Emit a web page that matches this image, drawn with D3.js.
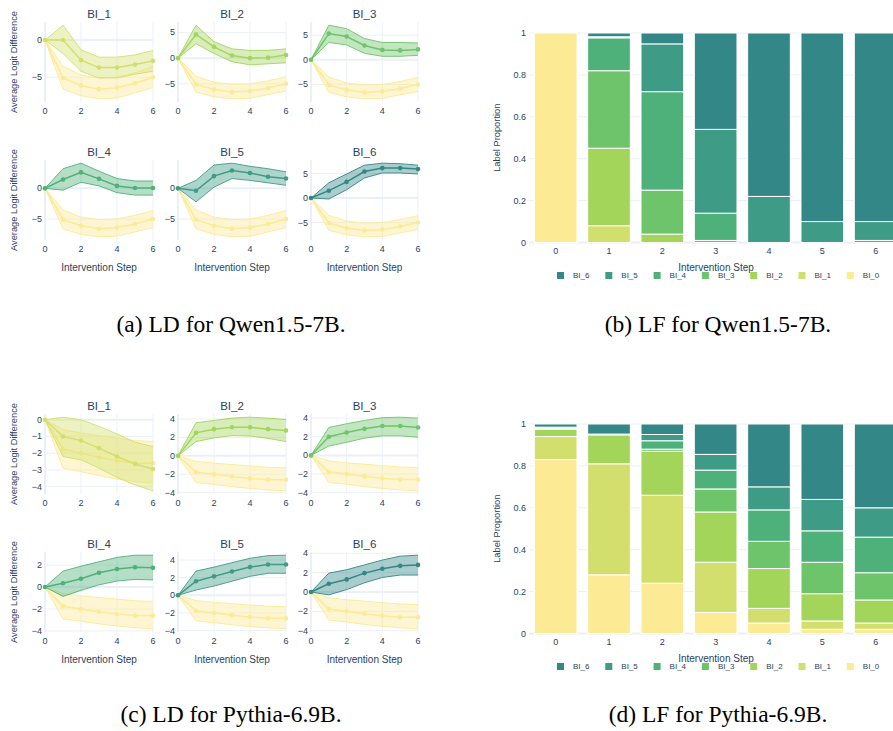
<!DOCTYPE html>
<html>
<head>
<meta charset="utf-8">
<script src="https://cdn.jsdelivr.net/npm/d3@7"></script>
<style>
  body { margin: 0; background: #fff; }
  svg { display: block; }
</style>
</head>
<body>
<svg id="fig" width="893" height="731"></svg>
<script>
// ---------- data ----------
const steps = [0, 1, 2, 3, 4, 5, 6];
const labels = ["BI_0", "BI_1", "BI_2", "BI_3", "BI_4", "BI_5", "BI_6"];
const palette = ["#fcea94", "#d3df6d", "#a2d55a", "#6ec46a", "#4fb17a", "#3e9b86", "#338786"];

// Qwen1.5-7B: baseline (BI_0) logit difference, shared by every subplot
const qwenBaseMean  = [0, -5.1, -6.1, -6.6, -6.4, -5.8, -5.0];
const qwenBaseUpper = [0, -3.5, -4.7, -5.1, -5.0, -4.4, -3.6];
const qwenBaseLower = [0, -6.6, -7.5, -7.9, -7.8, -7.1, -6.4];
// Qwen1.5-7B: BI_1 .. BI_6
const qwenMean = [
  [0, 0.0, -2.7, -3.7, -3.7, -3.3, -2.8],
  [0, 4.6, 2.2, 0.5, 0.0, 0.1, 0.6],
  [0, 5.3, 4.7, 2.9, 2.0, 1.9, 2.1],
  [0, 1.45, 2.6, 1.55, 0.4, 0.05, 0.05],
  [0, -0.4, 2.0, 2.9, 2.5, 1.9, 1.6],
  [0, 1.5, 3.3, 5.4, 6.1, 6.1, 5.9]
];
const qwenUpper = [
  [0, 2.0, -1.3, -2.3, -2.3, -2.0, -1.4],
  [0, 6.4, 3.2, 1.8, 1.5, 1.5, 1.8],
  [0, 7.0, 6.3, 4.3, 3.5, 3.5, 3.4],
  [0, 3.2, 4.1, 2.8, 1.6, 1.2, 1.2],
  [0, 1.3, 3.8, 4.1, 3.6, 3.2, 2.7],
  [0, 3.1, 4.9, 6.7, 7.1, 7.0, 6.7]
];
const qwenLower = [
  [0, -1.8, -4.2, -5.1, -5.1, -4.6, -4.2],
  [0, 2.8, 0.9, -0.7, -1.3, -1.1, -0.9],
  [0, 3.5, 3.0, 1.3, 0.7, 0.7, 0.9],
  [0, -0.3, 1.0, 0.4, -0.7, -1.1, -1.1],
  [0, -2.2, 0.2, 1.6, 1.3, 0.9, 0.5],
  [0, -0.2, 1.7, 4.1, 5.1, 5.1, 4.9]
];

// Pythia-6.9B: baseline (BI_0)
const pythiaBaseMean  = [0, -1.75, -2.0, -2.25, -2.45, -2.6, -2.6];
const pythiaBaseUpper = [0, -0.6, -0.8, -0.95, -1.1, -1.25, -1.3];
const pythiaBaseLower = [0, -2.9, -3.1, -3.35, -3.55, -3.7, -3.8];
// Pythia-6.9B: BI_1 .. BI_6
const pythiaMean = [
  [0, -1.0, -1.25, -1.7, -2.2, -2.65, -2.95],
  [0, 2.5, 2.9, 3.1, 3.1, 2.9, 2.75],
  [0, 2.0, 2.45, 2.85, 3.15, 3.15, 3.0],
  [0, 0.35, 0.75, 1.3, 1.65, 1.8, 1.75],
  [0, 1.6, 2.15, 2.7, 3.2, 3.5, 3.5],
  [0, 0.85, 1.3, 1.95, 2.4, 2.7, 2.8]
];
const pythiaUpper = [
  [0, 0.15, 0.0, -0.4, -0.85, -1.35, -1.6],
  [0, 3.6, 3.85, 4.1, 4.2, 4.1, 3.95],
  [0, 3.0, 3.4, 3.75, 4.05, 4.1, 4.0],
  [0, 1.45, 1.9, 2.3, 2.7, 2.9, 2.9],
  [0, 2.75, 3.2, 3.7, 4.2, 4.5, 4.55],
  [0, 1.95, 2.3, 2.8, 3.3, 3.7, 3.8]
];
const pythiaLower = [
  [0, -2.2, -2.4, -2.9, -3.45, -3.9, -4.25],
  [0, 1.55, 1.95, 2.2, 2.15, 1.9, 1.55],
  [0, 1.0, 1.4, 1.85, 2.1, 2.1, 1.95],
  [0, -0.85, -0.3, 0.2, 0.55, 0.7, 0.65],
  [0, 0.6, 1.05, 1.6, 2.15, 2.5, 2.5],
  [0, -0.3, 0.25, 0.95, 1.5, 1.75, 1.75]
];

// Label proportions per step (rows: BI_0 .. BI_6)
const qwenShare = [
  [1, 0, 0, 0, 0, 0, 0],
  [0, 0.08, 0, 0, 0, 0, 0],
  [0, 0.37, 0.04, 0, 0, 0, 0],
  [0, 0.37, 0.21, 0.01, 0, 0, 0],
  [0, 0.157, 0.47, 0.13, 0, 0, 0.01],
  [0, 0.005, 0.228, 0.40, 0.22, 0.10, 0.09],
  [0, 0.018, 0.052, 0.46, 0.78, 0.90, 0.90]
];
const pythiaShare = [
  [0.83, 0.28, 0.24, 0.10, 0.05, 0.02, 0.02],
  [0.11, 0.53, 0.42, 0.24, 0.07, 0.04, 0.03],
  [0.035, 0.138, 0.21, 0.24, 0.19, 0.13, 0.11],
  [0.005, 0.002, 0.01, 0.11, 0.13, 0.15, 0.13],
  [0.003, 0, 0.04, 0.09, 0.15, 0.15, 0.17],
  [0.002, 0.002, 0.03, 0.075, 0.11, 0.15, 0.14],
  [0.015, 0.048, 0.05, 0.145, 0.30, 0.36, 0.40]
];
const shareTicks = [0, 0.2, 0.4, 0.6, 0.8, 1];

// ---------- style ----------
const FONT = "'Liberation Sans', Arial, sans-serif";
const TXT = "#2a3f5f";
const GRID = "#ebf0f8";
const svg = d3.select("#fig");

const fmt = v => (v < 0 ? "\u2212" + (-v) : String(v));

// plotly-like automatic dtick: span / 5 rounded up to 2, 5 or 10 × 10^k
function autoStep(span) {
  const rough = span / 5;
  const base = Math.pow(10, Math.floor(Math.log10(rough)));
  const r = rough / base;
  return (r <= 2 ? 2 : r <= 5 ? 5 : 10) * base;
}

// ---------- logit-difference small multiples ----------
function drawLD(ox, oy, mean, upper, lower, bMean, bUpper, bLower) {
  const colLeft = [45, 178, 311];
  const colW = [108, 108, 107];
  const rowTop = [0, 138];
  const H = 80;
  const g = svg.append("g").attr("transform", `translate(${ox},${oy})`);

  for (let i = 0; i < 6; i++) {
    const r = Math.floor(i / 3), c = i % 3;
    const L = colLeft[c], T = rowTop[r], W = colW[c];
    const color = palette[i + 1];
    const base = palette[0];

    const all = [].concat(upper[i], lower[i], bUpper, bLower);
    const lo = d3.min(all), hi = d3.max(all);
    const padPx = 0.04 * H;
    const p = (hi - lo) * padPx / (H - 2 * padPx);
    const y = d3.scaleLinear().domain([lo - p, hi + p]).range([T + H, T]);
    const x = d3.scaleLinear().domain([0, 6]).range([L, L + W]);

    const step = autoStep(y.domain()[1] - y.domain()[0]);
    const yt = d3.range(Math.ceil(y.domain()[0] / step) * step, y.domain()[1] + 1e-9, step)
      .map(v => Math.round(v * 1e6) / 1e6);

    const sp = g.append("g");
    // grid
    sp.selectAll(".gy").data(yt).join("line")
      .attr("x1", L).attr("x2", L + W)
      .attr("y1", d => y(d)).attr("y2", d => y(d))
      .attr("stroke", GRID).attr("stroke-width", d => d === 0 ? 2 : 1);
    sp.selectAll(".gx").data([0, 2, 4, 6]).join("line")
      .attr("x1", d => x(d)).attr("x2", d => x(d))
      .attr("y1", T).attr("y2", T + H)
      .attr("stroke", GRID).attr("stroke-width", d => d === 0 ? 2 : 1);

    // tick labels
    sp.selectAll(".ty").data(yt).join("text")
      .attr("x", L - 3).attr("y", d => y(d))
      .attr("text-anchor", "end").attr("dominant-baseline", "central")
      .attr("font-family", FONT).attr("font-size", 9).attr("fill", TXT)
      .text(fmt);
    sp.selectAll(".tx").data([0, 2, 4, 6]).join("text")
      .attr("x", d => x(d)).attr("y", T + H + 8.5)
      .attr("text-anchor", "middle").attr("dominant-baseline", "central")
      .attr("font-family", FONT).attr("font-size", 9).attr("fill", TXT)
      .text(fmt);

    const band = (up, dn, col) => {
      const area = d3.area().x((d, k) => x(steps[k])).y0((d, k) => y(dn[k])).y1(d => y(d));
      const line = d3.line().x((d, k) => x(steps[k])).y(d => y(d));
      sp.append("path").attr("d", area(up)).attr("fill", col).attr("fill-opacity", 0.42);
      sp.append("path").attr("d", line(up)).attr("fill", "none").attr("stroke", col).attr("stroke-width", 0.9);
      sp.append("path").attr("d", line(dn)).attr("fill", "none").attr("stroke", col).attr("stroke-width", 0.9);
    };
    const meanLine = (m, col) => {
      const line = d3.line().x((d, k) => x(steps[k])).y(d => y(d));
      sp.append("path").attr("d", line(m)).attr("fill", "none").attr("stroke", col).attr("stroke-width", 1.5);
      sp.selectAll(null).data(m).join("circle")
        .attr("cx", (d, k) => x(steps[k])).attr("cy", d => y(d)).attr("r", 2.3).attr("fill", col);
    };

    band(bUpper, bLower, base);
    meanLine(bMean, base);
    band(upper[i], lower[i], color);
    meanLine(mean[i], color);

    // subplot title
    sp.append("text").attr("x", L + W / 2).attr("y", T - 8.5)
      .attr("text-anchor", "middle").attr("dominant-baseline", "central")
      .attr("font-family", FONT).attr("font-size", 11.5).attr("fill", TXT)
      .text(labels[i + 1]);
  }

  // axis titles
  for (let r = 0; r < 2; r++) {
    g.append("text")
      .attr("transform", `translate(14,${rowTop[r] + H / 2}) rotate(-90)`)
      .attr("text-anchor", "middle").attr("dominant-baseline", "central")
      .attr("font-family", FONT).attr("font-size", 9.3).attr("fill", TXT)
      .text("Average Logit Difference");
  }
  for (let c = 0; c < 3; c++) {
    g.append("text").attr("x", colLeft[c] + colW[c] / 2).attr("y", rowTop[1] + H + 27)
      .attr("text-anchor", "middle").attr("dominant-baseline", "central")
      .attr("font-family", FONT).attr("font-size", 10).attr("fill", TXT)
      .text("Intervention Step");
  }
}

// ---------- label-proportion stacked bars ----------
function drawLF(oy, share) {
  const g = svg.append("g").attr("transform", `translate(0,${oy})`);
  const top = 0, bottom = 209.5;
  const x = d3.scaleBand().domain(steps).range([529, 902.3]).paddingInner(0.2).paddingOuter(0.1);
  const y = d3.scaleLinear().domain([0, 1]).range([bottom, top]);

  g.selectAll(".grid").data(shareTicks).join("line")
    .attr("x1", 529).attr("x2", 902)
    .attr("y1", d => y(d)).attr("y2", d => y(d))
    .attr("stroke", GRID).attr("stroke-width", d => d === 0 ? 2 : 1);

  const stack = d3.stack().keys(d3.range(labels.length))
    .value((d, k) => share[k][d])(steps);
  stack.forEach((layer, k) => {
    g.selectAll(null).data(layer.filter(s => s[1] - s[0] > 0)).join("rect")
      .attr("x", d => x(d.data))
      .attr("width", x.bandwidth())
      .attr("y", d => y(d[1]))
      .attr("height", d => y(d[0]) - y(d[1]))
      .attr("fill", palette[k])
      .attr("stroke", "#fff").attr("stroke-width", 1);
  });

  g.selectAll(".ty").data(shareTicks).join("text")
    .attr("x", 526).attr("y", d => y(d))
    .attr("text-anchor", "end").attr("dominant-baseline", "central")
    .attr("font-family", FONT).attr("font-size", 9).attr("fill", TXT)
    .text(d => String(d));
  g.selectAll(".tx").data(steps).join("text")
    .attr("x", d => x(d) + x.bandwidth() / 2).attr("y", bottom + 8)
    .attr("text-anchor", "middle").attr("dominant-baseline", "central")
    .attr("font-family", FONT).attr("font-size", 9).attr("fill", TXT)
    .text(d => String(d));

  g.append("text")
    .attr("transform", `translate(497,${(top + bottom) / 2}) rotate(-90)`)
    .attr("text-anchor", "middle").attr("dominant-baseline", "central")
    .attr("font-family", FONT).attr("font-size", 9.3).attr("fill", TXT)
    .text("Label Proportion");
  g.append("text").attr("x", 716).attr("y", bottom + 25)
    .attr("text-anchor", "middle").attr("dominant-baseline", "central")
    .attr("font-family", FONT).attr("font-size", 10).attr("fill", TXT)
    .text("Intervention Step");

  // legend, highest label first
  const order = d3.range(labels.length).reverse();
  const lg = g.append("g").attr("transform", `translate(0,${bottom + 33})`);
  order.forEach((k, j) => {
    const lx = 557 + j * 48.3;
    lg.append("rect").attr("x", lx).attr("y", -3.5).attr("width", 7).attr("height", 7)
      .attr("fill", palette[k]);
    lg.append("text").attr("x", lx + 16).attr("y", 0)
      .attr("dominant-baseline", "central")
      .attr("font-family", FONT).attr("font-size", 8).attr("fill", TXT)
      .text(labels[k]);
  });
}

drawLD(0, 22, qwenMean, qwenUpper, qwenLower, qwenBaseMean, qwenBaseUpper, qwenBaseLower);
drawLD(0, 414, pythiaMean, pythiaUpper, pythiaLower, pythiaBaseMean, pythiaBaseUpper, pythiaBaseLower);
drawLF(33, qwenShare);
drawLF(424, pythiaShare);

// captions
const captions = [
  { x: 231, y: 332, t: "(a) LD for Qwen1.5-7B." },
  { x: 718, y: 332, t: "(b) LF for Qwen1.5-7B." },
  { x: 231, y: 722, t: "(c) LD for Pythia-6.9B." },
  { x: 718, y: 722, t: "(d) LF for Pythia-6.9B." }
];
svg.selectAll(".cap").data(captions).join("text")
  .attr("x", d => d.x).attr("y", d => d.y)
  .attr("text-anchor", "middle")
  .attr("font-family", "'Liberation Serif', 'Times New Roman', serif")
  .attr("font-size", 23.5).attr("fill", "#000")
  .text(d => d.t);
</script>
</body>
</html>
